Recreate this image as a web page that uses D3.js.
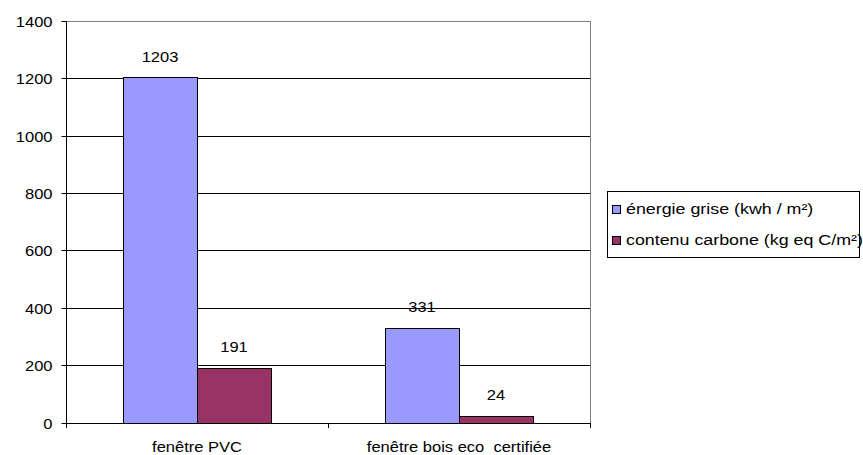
<!DOCTYPE html>
<html><head><meta charset="utf-8">
<script src="https://cdn.jsdelivr.net/npm/d3@7"></script>
<style>body{margin:0;background:#fff}svg{display:block}text{font-family:"Liberation Sans",Arial,sans-serif;font-size:14px;fill:#000;white-space:pre}</style>
</head><body>
<script>
const categories = ["fenêtre PVC", "fenêtre bois eco  certifiée"];
const seriesNames = ["énergie grise (kwh / m²)", "contenu carbone (kg eq C/m²)"];
const energieGrise = [1203, 331];
const contenuCarbone = [191, 24];
const yTicks = [0, 200, 400, 600, 800, 1000, 1200, 1400];
const colors = ["#9999FF", "#993366"];
const seriesValues = [energieGrise, contenuCarbone];

const W = 863, H = 455;
const svg = d3.select("body").append("svg").attr("width", W).attr("height", H);
const pLeft = 66, pRight = 590, pTop = 21, pBottom = 422.5;
const SX = 1.18;

const y = d3.scaleLinear().domain([0, 1400]).range([pBottom, pTop]);
const x0 = d3.scaleBand().domain(categories).range([pLeft, pRight]).padding(0);
const groupW = 148;
const x1 = d3.scaleBand().domain(seriesNames).range([0, groupW]).padding(0);

function stext(g, tx, ty, str, anchor, size, sx) {
  g.append("text").attr("transform", `translate(${tx},${ty}) scale(${sx || SX},1)`)
    .attr("xml:space", "preserve")
    .style("font-size", (size || 14) + "px")
    .attr("text-anchor", anchor || "middle").attr("dominant-baseline", "central").text(str);
}

// gridlines
svg.append("g").selectAll("line").data(yTicks.filter(d => d > 0 && d < 1400)).join("line")
  .attr("x1", pLeft).attr("x2", pRight).attr("y1", d => Math.round(y(d)) + 0.5).attr("y2", d => Math.round(y(d)) + 0.5)
  .attr("stroke", "#000").attr("stroke-width", 1);
// top and right border gray
svg.append("line").attr("x1", pLeft).attr("x2", pRight).attr("y1", Math.round(y(1400)) + 0.5).attr("y2", Math.round(y(1400)) + 0.5).attr("stroke", "#808080");
svg.append("line").attr("x1", pRight + 0.5).attr("x2", pRight + 0.5).attr("y1", Math.round(y(1400))).attr("y2", Math.round(pBottom)).attr("stroke", "#808080");

// bars
const groups = svg.append("g").selectAll("g").data(categories).join("g")
  .attr("transform", d => `translate(${x0(d) + (x0.bandwidth() - groupW) / 2},0)`);
groups.each(function(cat, ci) {
  const g = d3.select(this);
  seriesNames.forEach((s, si) => {
    const v = seriesValues[si][ci];
    g.append("rect").attr("x", x1(s) + 0.5).attr("y", Math.round(y(v)) + 0.5)
      .attr("width", x1.bandwidth()).attr("height", Math.round(pBottom) - Math.round(y(v)))
      .attr("fill", colors[si]).attr("stroke", "#000").attr("stroke-width", 1);
    stext(g, x1(s) + x1.bandwidth() / 2, y(v) - 21, String(v));
  });
});

// y axis
const yAxis = svg.append("g").attr("transform", `translate(${pLeft + 0.5},0)`)
  .call(d3.axisLeft(y).tickValues(yTicks).tickSize(5).tickFormat(d3.format("d")));
yAxis.select(".domain").attr("stroke", "#000").attr("d", `M0,${Math.round(y(1400))}V${Math.round(pBottom) + 0.5}`);
yAxis.selectAll(".tick line").attr("stroke", "#000");
yAxis.selectAll(".tick").attr("transform", d => `translate(0,${Math.round(y(d)) + 0.5})`);
yAxis.selectAll(".tick text").remove();
yAxis.selectAll(".tick").each(function(d) { stext(d3.select(this), -14, 0, String(d), "end"); });

// x axis
const xg = svg.append("g");
xg.append("line").attr("x1", pLeft).attr("x2", pRight + 1).attr("y1", Math.round(pBottom) + 0.5).attr("y2", Math.round(pBottom) + 0.5).attr("stroke", "#000");
const xt = [pLeft, ...categories.map(c => x0(c) + x0.bandwidth())];
xg.selectAll("line.t").data(xt).join("line").attr("class", "t")
  .attr("x1", d => Math.round(d) + 0.5).attr("x2", d => Math.round(d) + 0.5)
  .attr("y1", Math.round(pBottom)).attr("y2", Math.round(pBottom) + 5).attr("stroke", "#000");
categories.forEach(c => stext(xg, x0(c) + x0.bandwidth() / 2, 447, c));

// legend
const lg = svg.append("g");
lg.append("rect").attr("x", 607.5).attr("y", 191.5).attr("width", 252).attr("height", 66).attr("fill", "#fff").attr("stroke", "#000");
seriesNames.forEach((s, i) => {
  const cy = 208.5 + i * 31.5;
  lg.append("rect").attr("x", 612.5).attr("y", Math.round(cy - 4) + 0.5).attr("width", 8).attr("height", 8).attr("fill", colors[i]).attr("stroke", "#000");
  stext(lg, 626, cy, s, "start", 15, 1.19);
});
</script>
</body></html>
